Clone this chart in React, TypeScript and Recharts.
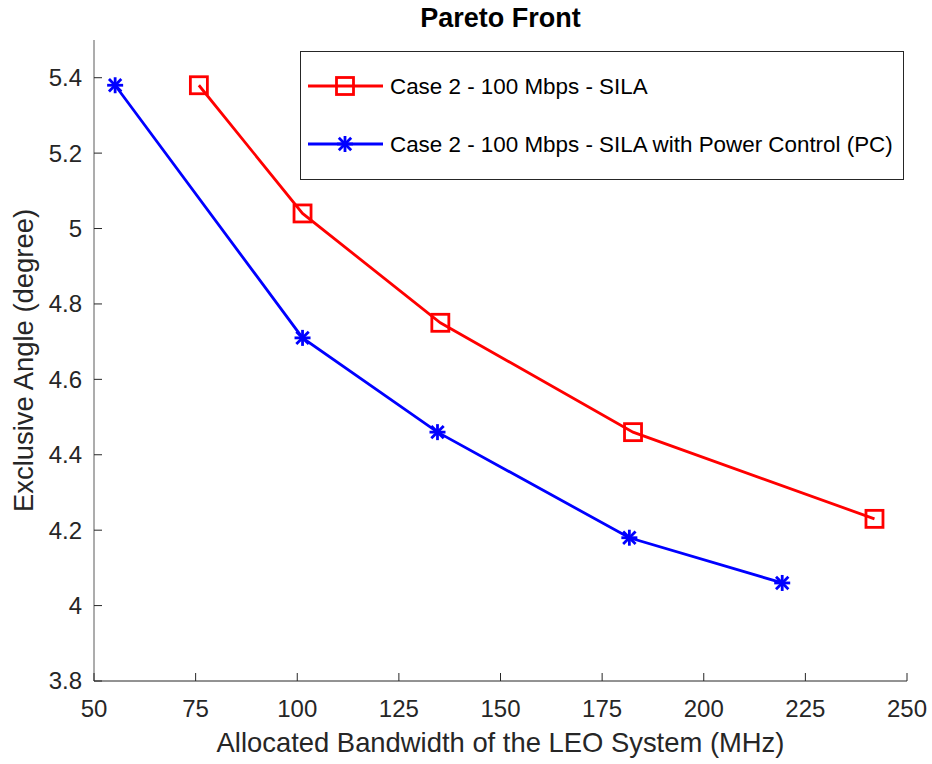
import { LineChart, Line, XAxis, YAxis, Legend, Customized } from 'recharts'

// Pareto front: bandwidth (MHz) vs exclusive angle (degree)
const silaBandwidth = [75.8, 101.3, 135.2, 182.6, 242.0]
const silaAngle = [5.38, 5.04, 4.75, 4.46, 4.23]
const pcBandwidth = [55.2, 101.3, 134.5, 181.7, 219.3]
const pcAngle = [5.38, 4.71, 4.46, 4.18, 4.06]

const xTicks = [50, 75, 100, 125, 150, 175, 200, 225, 250]
const yTicks = [3.8, 4, 4.2, 4.4, 4.6, 4.8, 5, 5.2, 5.4]

const seriesNames = [
  'Case 2 - 100 Mbps - SILA',
  'Case 2 - 100 Mbps - SILA with Power Control (PC)',
]

const silaData = silaBandwidth.map((x, i) => ({ x, y: silaAngle[i] }))
const pcData = pcBandwidth.map((x, i) => ({ x, y: pcAngle[i] }))

const W = 932
const H = 764
const PLOT_LEFT = 94
const PLOT_RIGHT = 907
const PLOT_TOP = 40
const PLOT_BOTTOM = 681
const FONT = '"Liberation Sans", Arial, Helvetica, sans-serif'
const INK = '#262626'
const RED = '#ff0000'
const BLUE = '#0000ff'

const SquareMark = ({ cx, cy, color = RED }: any) => {
  if (cx == null || cy == null) return null
  return <rect x={cx - 8.5} y={cy - 8.5} width={17} height={17} fill="none" stroke={color} strokeWidth={2.8} />
}

const StarMark = ({ cx, cy, color = BLUE }: any) => {
  if (cx == null || cy == null) return null
  const r = 8
  const d = 6.2
  return (
    <g stroke={color} strokeWidth={2.8} strokeLinecap="butt">
      <line x1={cx - r} y1={cy} x2={cx + r} y2={cy} />
      <line x1={cx} y1={cy - r} x2={cx} y2={cy + r} />
      <line x1={cx - d} y1={cy - d} x2={cx + d} y2={cy + d} />
      <line x1={cx - d} y1={cy + d} x2={cx + d} y2={cy - d} />
    </g>
  )
}

const YTick = ({ y, payload }: any) => (
  <g>
    <line x1={PLOT_LEFT} x2={PLOT_LEFT + 8} y1={y} y2={y} stroke={INK} strokeWidth={1} />
    <text x={PLOT_LEFT - 12} y={y} dy="0.35em" textAnchor="end" fontSize={24} fill={INK} fontFamily={FONT}>
      {String(payload.value)}
    </text>
  </g>
)

const XTick = ({ x, payload }: any) => (
  <g>
    <line x1={x} x2={x} y1={PLOT_BOTTOM} y2={PLOT_BOTTOM - 8} stroke={INK} strokeWidth={1} />
    <text x={x} y={717} textAnchor="middle" fontSize={24} fill={INK} fontFamily={FONT}>
      {String(payload.value)}
    </text>
  </g>
)

const Annotations = () => {
  const cx = (PLOT_LEFT + PLOT_RIGHT) / 2
  const cy = (PLOT_TOP + PLOT_BOTTOM) / 2
  return (
    <g fontFamily={FONT}>
      <text x={cx} y={27} textAnchor="middle" fontSize={27} fontWeight="bold" fill="#000">
        Pareto Front
      </text>
      <text x={cx} y={752} textAnchor="middle" fontSize={27.4} fill={INK}>
        Allocated Bandwidth of the LEO System (MHz)
      </text>
      <text x={33} y={cy} textAnchor="middle" fontSize={27.4} fill={INK} transform={`rotate(-90 33 ${cy})`}>
        Exclusive Angle (degree)
      </text>
    </g>
  )
}

const LegendBox = () => {
  const rows = [
    { name: seriesNames[0], color: RED, Mark: SquareMark },
    { name: seriesNames[1], color: BLUE, Mark: StarMark },
  ]
  return (
    <svg width={605} height={130} style={{ display: 'block' }}>
      <rect x={0.5} y={0.5} width={603} height={128} fill="#fff" stroke={INK} strokeWidth={1} />
      {rows.map((r, i) => {
        const y = 35 + i * 58
        return (
          <g key={r.name}>
            <line x1={8} x2={83} y1={y} y2={y} stroke={r.color} strokeWidth={2.8} />
            <r.Mark cx={45} cy={y} color={r.color} />
            <text x={90} y={y} dy="0.36em" fontSize={22.4} fill="#000" fontFamily={FONT}>
              {r.name}
            </text>
          </g>
        )
      })}
    </svg>
  )
}

export default function App() {
  return (
    <div style={{ position: 'absolute', left: 0, top: 0, width: W, height: H, background: '#fff' }}>
      <LineChart width={W} height={H} margin={{ top: PLOT_TOP, right: W - PLOT_RIGHT, bottom: 0, left: 0 }}>
        <XAxis
          type="number"
          dataKey="x"
          domain={[50, 250]}
          ticks={xTicks}
          allowDataOverflow
          height={H - PLOT_BOTTOM}
          axisLine={{ stroke: INK, strokeWidth: 1 }}
          tickLine={false}
          tick={<XTick />}
          interval={0}
        />
        <YAxis
          type="number"
          dataKey="y"
          domain={[3.8, 5.5]}
          ticks={yTicks}
          allowDataOverflow
          width={PLOT_LEFT}
          axisLine={{ stroke: '#5a5a5a', strokeWidth: 1 }}
          tickLine={false}
          tick={<YTick />}
          interval={0}
        />
        <Legend
          layout="vertical"
          align="center"
          verticalAlign="middle"
          content={<LegendBox />}
          wrapperStyle={{ left: 300, top: 51, width: 605, height: 130 }}
        />
        <Line
          data={silaData}
          dataKey="y"
          name={seriesNames[0]}
          stroke={RED}
          strokeWidth={2.8}
          dot={<SquareMark color={RED} />}
          activeDot={false}
          isAnimationActive={false}
        />
        <Line
          data={pcData}
          dataKey="y"
          name={seriesNames[1]}
          stroke={BLUE}
          strokeWidth={2.8}
          dot={<StarMark color={BLUE} />}
          activeDot={false}
          isAnimationActive={false}
        />
        <Customized component={<Annotations />} />
      </LineChart>
    </div>
  )
}
